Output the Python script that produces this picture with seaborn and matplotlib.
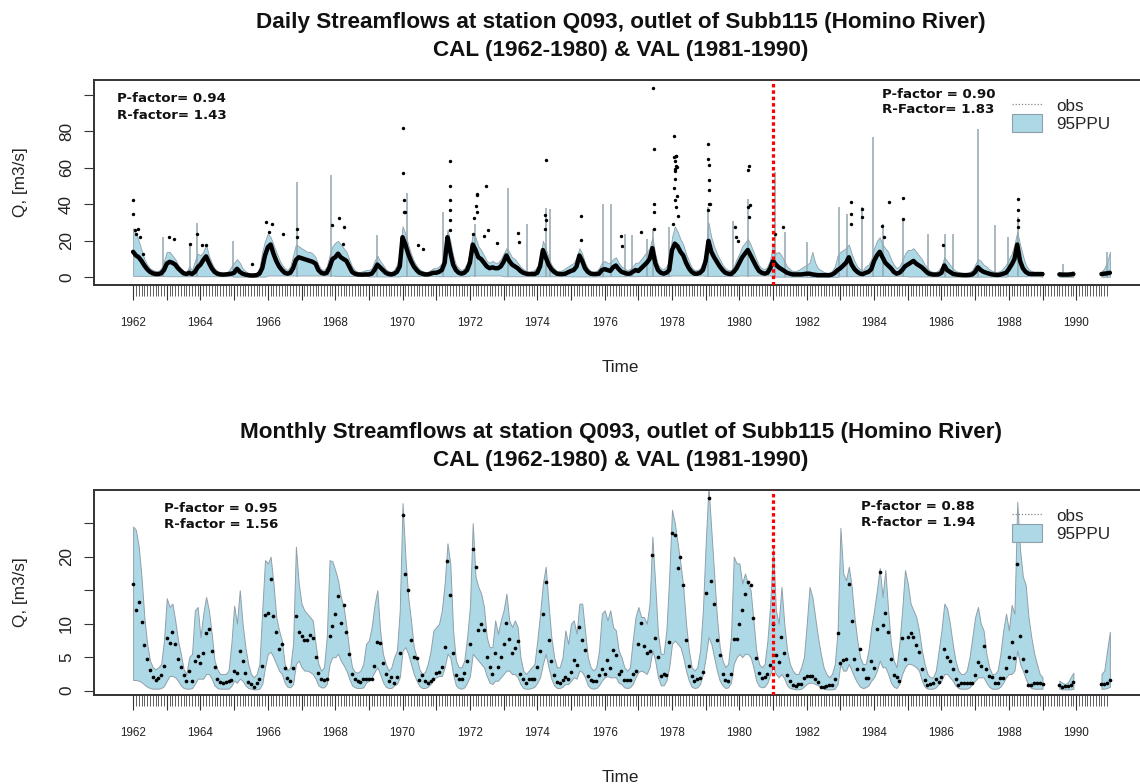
import numpy as np
import pandas as pd
import matplotlib
matplotlib.use("Agg")
import matplotlib.pyplot as plt
import seaborn as sns
from matplotlib.lines import Line2D
from matplotlib.patches import Patch

sns.set_theme(style="ticks")
plt.rcParams["font.family"] = ["Liberation Sans", "DejaVu Sans"]

# ---------------- DATA ----------------
# Monthly series: main block Jan 1962 .. Jan 1989, then Jul-Dec 1989, Oct 1990-Jan 1991
main_start = (1962, 1)
seg2_start = (1989, 7)
seg3_start = (1990, 10)

monthly_obs = [
    16.0, 12.0, 13.2, 10.2, 6.8, 4.8, 3.1, 2.0, 1.6, 1.9, 2.4, 3.7,
    7.9, 7.1, 8.8, 7.0, 4.7, 3.6, 2.3, 1.5, 3.0, 1.5, 4.5, 5.2,
    4.1, 5.6, 8.6, 9.2, 5.9, 3.5, 1.8, 1.3, 1.1, 1.3, 1.4, 1.6,
    3.0, 2.7, 5.9, 4.4, 2.7, 1.3, 1.0, 0.6, 1.2, 1.8, 3.7, 11.3,
    11.6, 16.7, 11.2, 8.7, 6.3, 6.9, 3.4, 1.9, 1.5, 3.4, 11.2, 8.7,
    8.2, 7.6, 7.6, 8.3, 7.8, 5.0, 2.7, 1.7, 1.6, 1.8, 8.1, 9.6,
    11.5, 14.2, 10.1, 12.8, 8.7, 5.5, 2.5, 1.7, 1.5, 1.3, 1.7, 1.7,
    1.8, 1.8, 3.7, 7.2, 7.1, 4.2, 2.5, 1.4, 2.1, 1.2, 2.1, 5.6,
    26.3, 17.4, 15.1, 7.6, 5.1, 4.9, 1.6, 2.3, 1.4, 1.2, 1.4, 1.8,
    2.7, 2.8, 3.5, 6.5, 19.4, 14.3, 5.7, 2.4, 1.8, 1.7, 2.7, 4.4,
    7.0, 21.1, 18.4, 9.0, 9.9, 9.1, 5.0, 3.5, 2.5, 5.6, 3.6, 5.0,
    7.0, 10.1, 7.7, 5.7, 6.4, 7.4, 2.5, 1.8, 1.1, 1.7, 1.7, 1.8,
    3.5, 6.0, 11.4, 16.3, 7.5, 4.4, 2.4, 1.3, 1.2, 1.6, 2.1, 1.8,
    2.8, 4.6, 3.8, 9.5, 7.5, 6.1, 2.2, 1.6, 1.5, 1.4, 2.4, 3.2,
    2.5, 4.6, 3.4, 6.1, 5.3, 2.5, 3.0, 1.6, 1.6, 1.6, 2.5, 3.0,
    6.9, 10.1, 6.6, 5.6, 6.0, 20.2, 7.9, 5.0, 2.2, 2.5, 2.4, 7.3,
    23.6, 23.3, 18.3, 20.0, 15.8, 7.5, 3.7, 2.2, 1.4, 1.8, 1.9, 2.8,
    14.6, 28.8, 16.4, 12.9, 7.6, 5.4, 2.5, 1.6, 1.4, 2.5, 7.7, 7.7,
    10.0, 12.0, 14.5, 16.2, 15.8, 10.9, 4.9, 2.6, 1.9, 2.1, 2.5, 3.9,
    10.0, 5.4, 4.3, 8.0, 5.7, 2.3, 1.4, 0.8, 0.65, 1.0, 1.0, 1.9,
    2.2, 2.2, 2.2, 1.7, 1.3, 0.6, 0.6, 0.7, 0.8, 0.8, 1.8, 8.6,
    4.2, 4.6, 4.8, 15.9, 10.4, 4.8, 3.2, 6.3, 3.2, 1.9, 1.9, 4.5,
    3.4, 9.2, 17.7, 9.8, 11.6, 8.8, 4.8, 2.3, 2.0, 1.5, 7.9, 4.7,
    8.0, 8.6, 8.0, 6.8, 5.8, 3.3, 1.6, 0.9, 1.0, 1.2, 1.8, 1.3,
    2.0, 6.2, 5.0, 4.4, 3.2, 1.8, 0.9, 1.1, 1.1, 1.1, 1.2, 1.2,
    2.3, 4.3, 3.7, 6.6, 3.2, 2.2, 2.0, 1.1, 1.1, 1.9, 1.9, 3.4,
    5.0, 7.3, 4.9, 18.9, 8.2, 4.7, 3.0, 0.8, 0.9, 1.2, 1.1, 1.1,
    1.0,
]
monthly_up = [
    24.5, 24.0, 21.5, 17, 11, 7, 4.5, 3.5, 3.2, 3.5, 4, 7.5,
    13.8, 12.5, 13, 10.5, 7.5, 5.5, 3.2, 2.5, 5, 5.5, 12, 12.5,
    8, 11.5, 14, 12, 8.5, 4.5, 3.2, 2.5, 2.5, 2.5, 3, 7,
    12.7, 10, 15, 10, 6.5, 4, 2.5, 2, 2.5, 4, 12, 19.5,
    19, 20, 16, 11, 9, 7.5, 4, 3, 3.5, 7, 21.5, 16,
    13, 12, 11.5, 11, 10.5, 7, 4, 3, 3.5, 8, 19.5, 19.3,
    18, 16.5, 14, 12.5, 9.5, 6, 3.5, 2.8, 2.7, 3, 4, 7,
    7.5, 9.5, 12.8, 15, 9, 5.5, 4, 3, 3.5, 5, 6, 12,
    28, 20, 14, 10.5, 6.5, 5, 3.2, 2.5, 2.8, 4, 6, 9,
    9.5, 10, 12, 16, 22, 19, 9, 4.5, 3.5, 3.5, 4.5, 8,
    12.5, 25, 17, 15.5, 14.5, 12.5, 8, 6.5, 6.5, 10.5, 8.5, 10.5,
    12, 14.5, 10.5, 9.5, 10.5, 9.5, 5, 3, 2.5, 3, 3.5, 4,
    7.5, 11.5, 16, 18.5, 13, 8, 5, 3.5, 3.5, 5, 9, 7,
    10, 10.5, 8.5, 13, 13, 9, 5, 3.5, 3, 3.5, 6, 11.5,
    12, 10.5, 12, 9.5, 9, 6, 5, 3.5, 3, 3.5, 7.5, 11,
    12.5, 11, 11, 10, 13, 23, 16, 8.5, 5.5, 5.5, 9, 17,
    27, 25, 22, 19, 15.5, 10, 6, 3.5, 3, 3.5, 6, 12,
    22, 30.5, 24, 17.5, 11, 6.5, 4.5, 3.5, 4, 8, 20, 19,
    19, 16, 17.5, 16, 15, 10.5, 6, 4, 3.5, 4, 7.5, 13,
    21.5, 12, 10, 15.5, 10, 6, 4, 3, 2.5, 2.5, 3.5, 5,
    10, 15.5, 14, 11, 8, 5.5, 3.5, 2.5, 2, 2.5, 4, 9,
    24.3, 17.5, 16.5, 18.5, 15.5, 11, 7.5, 5, 4, 4, 6, 9.5,
    12, 15, 18.3, 14, 18, 12, 7, 4.5, 3.5, 7, 12, 18,
    16, 13, 12, 11, 9, 6, 4, 2.5, 2, 2, 3, 6,
    9, 13, 12.3, 10, 7, 4.5, 3, 2.5, 2.5, 3, 5, 8,
    11, 12.5, 10, 9, 5.5, 3.5, 2.5, 2.5, 3, 5.5, 9, 11.5,
    9, 12.8, 11.5, 28.2, 21, 17, 15.8, 11, 8, 5.6, 4, 2.5,
    2.0,
]
monthly_lo = [
    1.6, 1.6, 1.5, 1.3, 0.9, 0.6, 0.4, 0.3, 0.3, 0.3, 0.4, 0.7,
    1.5, 2.2, 2.2, 2.0, 1.5, 0.8, 0.4, 0.3, 0.3, 0.4, 1.0, 1.8,
    1.8, 1.8, 2.5, 2.5, 1.8, 0.8, 0.4, 0.3, 0.3, 0.3, 0.3, 0.7,
    1.5, 1.2, 1.8, 1.5, 0.8, 0.4, 0.3, 0.2, 0.2, 0.3, 1.0, 3.5,
    5.5, 5.8, 5.0, 4.0, 3.0, 2.5, 1.2, 0.6, 0.5, 1.0, 4.0, 4.5,
    3.5, 3.0, 3.0, 2.8, 2.5, 1.8, 0.8, 0.5, 0.5, 1.0, 4.0, 5.0,
    5.0, 5.5, 4.5, 3.8, 3.0, 1.8, 0.8, 0.5, 0.4, 0.4, 0.5, 1.2,
    1.5, 2.0, 2.8, 3.5, 2.5, 1.3, 0.6, 0.4, 0.4, 0.8, 1.0, 2.0,
    6.0, 6.5, 5.5, 4.0, 2.5, 1.5, 0.7, 0.4, 0.4, 0.6, 1.0, 1.8,
    2.0, 2.2, 2.2, 3.5, 5.5, 5.0, 2.5, 0.8, 0.4, 0.3, 0.5, 1.2,
    2.2, 5.5, 5.0, 4.5, 4.0, 3.5, 2.2, 1.2, 1.0, 1.5, 1.5, 2.0,
    2.5, 3.0, 3.0, 2.5, 2.5, 2.0, 1.0, 0.4, 0.3, 0.3, 0.4, 0.6,
    1.2, 2.0, 4.0, 5.5, 3.5, 1.8, 0.8, 0.4, 0.4, 0.6, 1.0, 1.0,
    1.5, 2.0, 1.8, 3.0, 2.8, 2.0, 0.8, 0.4, 0.3, 0.4, 0.8, 1.5,
    2.0, 2.2, 2.0, 2.0, 2.0, 1.2, 1.0, 0.5, 0.4, 0.5, 1.0, 2.0,
    2.8, 3.0, 2.8, 2.5, 3.5, 6.0, 4.5, 2.0, 0.8, 0.8, 1.5, 3.5,
    7.0, 7.5, 7.0, 6.5, 5.0, 3.0, 1.5, 0.6, 0.4, 0.5, 1.0, 2.5,
    5.0, 8.0, 7.0, 5.0, 3.0, 1.5, 0.8, 0.4, 0.5, 1.2, 4.0, 5.0,
    5.5, 5.0, 5.5, 5.5, 5.0, 3.5, 1.5, 0.7, 0.5, 0.6, 1.2, 2.5,
    3.5, 2.5, 2.0, 2.5, 1.8, 0.8, 0.4, 0.3, 0.2, 0.2, 0.3, 0.6,
    1.0, 1.2, 1.2, 1.0, 0.8, 0.5, 0.3, 0.2, 0.2, 0.2, 0.3, 1.0,
    4.0, 3.0, 3.0, 4.0, 3.0, 2.0, 1.2, 0.6, 0.4, 0.5, 0.8, 1.5,
    2.0, 3.0, 4.5, 3.5, 3.5, 2.5, 1.2, 0.6, 0.4, 1.0, 2.5, 3.5,
    4.0, 4.0, 3.8, 3.5, 3.0, 1.5, 0.6, 0.3, 0.3, 0.3, 0.5, 1.0,
    1.5, 2.5, 2.5, 2.0, 1.5, 0.8, 0.4, 0.3, 0.3, 0.3, 0.5, 1.0,
    1.5, 2.0, 2.0, 2.0, 1.2, 0.6, 0.3, 0.3, 0.3, 0.6, 1.2, 2.0,
    2.5, 2.5, 3.0, 6.0, 4.0, 3.0, 1.8, 0.8, 0.4, 0.3, 0.3, 0.3,
    0.3,
]
monthly_obs_seg2 = [0.8, 0.55, 0.65, 0.65, 0.8, 1.3]
monthly_up_seg2 = [1.5, 1.2, 1.0, 1.2, 2.0, 2.7]
monthly_lo_seg2 = [0.3, 0.2, 0.2, 0.2, 0.2, 0.3]
monthly_obs_seg3 = [1.0, 1.05, 1.1, 1.6]
monthly_up_seg3 = [2.5, 3.0, 6.0, 8.8]
monthly_lo_seg3 = [0.3, 0.3, 0.4, 0.6]

# Daily panel: level of the dense daily obs curve and upper 95PPU edge, month by month
daily_obs = [
    14, 12, 11, 9, 6.5, 4.5, 3, 2.2, 1.8, 1.8, 2.2, 4,
    7.5, 8.5, 8, 7, 5, 3.5, 2.2, 1.8, 2.5, 1.8, 3, 5.5,
    7, 9.5, 11.5, 8, 5, 3, 2, 1.6, 1.5, 1.6, 1.8, 2,
    2.5, 4.7, 3, 2, 1.5, 1.2, 1.0, 1.0, 1.2, 2, 5, 12,
    16.5, 18, 13, 9, 6, 4, 2.5, 2, 2.5, 5, 9.5, 11,
    10.5, 10, 9.5, 9, 8.5, 7.5, 4, 2.5, 2, 2.5, 5.5, 10,
    11, 13, 11, 10, 9, 6, 3, 2, 1.6, 1.5, 1.5, 1.6,
    1.6, 2, 4, 7, 5.5, 4, 2.5, 1.8, 1.6, 2, 3, 6,
    22, 18, 13, 9, 6, 4, 2.5, 2, 1.6, 1.6, 2, 2.5,
    2.5, 3, 4, 8, 22, 14, 7, 4, 2.5, 2, 2.5, 4,
    8, 18, 15, 11, 10, 8, 6, 5, 5.5, 5, 5, 6,
    8.5, 12, 9, 7, 6, 5, 3.5, 2.5, 2, 1.8, 1.8, 1.8,
    2.5, 6, 15, 11, 7, 4.5, 3, 2, 1.8, 1.8, 2, 2.8,
    3.5, 4, 6, 12, 9, 5, 3, 2, 1.8, 1.8, 2, 4,
    4.5, 4, 3.5, 5.5, 6.5, 4.5, 3, 2.5, 2, 2, 3, 4,
    3.5, 5, 6.5, 8, 10, 16, 8, 4, 2.5, 2, 2.5, 4,
    15, 18.5, 17, 14, 12, 8, 5, 3, 2, 2, 2.5, 4,
    9, 20, 14, 11, 8.5, 6, 4, 2.5, 2, 1.8, 3, 5,
    8, 11, 13, 15, 12, 9, 6, 3.5, 2.5, 2, 2.5, 5,
    9, 7, 5.5, 4.5, 3.5, 2.5, 2, 1.6, 1.6, 1.6, 1.6, 1.8,
    2, 2, 1.6, 1.4, 1.2, 1.2, 1.2, 1.2, 1.2, 1.5, 2.5, 4,
    5, 6.5, 8, 11, 7, 4.5, 3, 2, 1.8, 2.5, 3, 4.5,
    9, 12, 14, 11, 8, 6.5, 5, 3, 2, 2.5, 4, 6,
    7, 8, 9, 7.5, 6.5, 5.5, 4, 2.5, 1.8, 1.5, 1.5, 1.6,
    2.5, 6.5, 4, 3, 2, 1.6, 1.4, 1.3, 1.2, 1.2, 1.3, 1.6,
    3, 5.5, 4, 3, 2.5, 2, 1.6, 1.4, 1.3, 1.5, 2, 2.5,
    4.5, 7, 10, 18, 9, 5, 3, 2, 1.8, 1.8, 1.8, 1.8,
    1.8,
]
daily_up = [
    27, 24, 20, 15, 10, 7, 5, 4, 3.5, 3.5, 5, 9,
    14, 14, 12, 10, 7, 5, 3.5, 3, 6, 4, 9, 13,
    12, 14, 18, 12, 8, 5, 3.5, 3, 2.5, 2.5, 3.5, 6,
    8, 10, 8, 5, 3.5, 2.5, 2.2, 2.2, 2.5, 5, 14, 20,
    24, 22, 18, 14, 10, 7, 5, 4, 6, 12, 18, 17,
    16, 15, 14, 14, 13, 11, 7, 4.5, 4, 6, 12, 17,
    19, 20, 18, 16, 14, 10, 6, 4, 3, 3, 3.5, 4,
    4, 5, 9, 12, 9, 7, 4.5, 3.5, 3, 4, 7, 12,
    28, 24, 18, 13, 9, 6.5, 4.5, 3.5, 3, 3, 4, 5,
    5, 6, 8, 14, 26, 20, 12, 7, 5, 4, 5, 8,
    14, 24, 22, 17, 15, 12, 9, 8, 9, 8, 8, 10,
    13, 16, 14, 11, 10, 8, 6, 4.5, 3.5, 3, 3.5, 4,
    6, 10, 20, 16, 11, 7, 5, 3.5, 3.5, 4, 5, 6,
    7, 8, 11, 16, 13, 8, 5, 3.5, 3, 3.5, 5, 8,
    9, 8, 8, 10, 11, 8, 6, 5, 4, 4.5, 6, 8,
    8, 10, 12, 14, 16, 22, 13, 7, 5, 4.5, 6, 9,
    22, 28, 25, 21, 18, 13, 9, 5.5, 4, 4, 5, 8,
    15, 30, 22, 17, 13, 10, 7, 5, 4, 4, 6, 10,
    13, 17, 19, 21, 18, 14, 10, 6.5, 5, 4.5, 6, 10,
    18, 13, 14, 12, 9, 6, 4.5, 3.5, 3.5, 4, 5, 6,
    7, 8, 14, 8, 5, 4, 3, 2.5, 2.5, 3.5, 6, 12,
    14, 15, 16, 18, 13, 9, 6, 4.5, 4, 6, 7, 10,
    16, 20, 22, 18, 16, 14, 10, 7, 5, 6, 9, 13,
    15, 15, 16, 14, 12, 10, 7, 5, 3.5, 3, 3, 4,
    6, 11, 9, 7, 5, 3.5, 3, 2.5, 2.5, 2.5, 3, 4,
    7, 10, 9, 7, 6, 4.5, 3.5, 3, 3, 3.5, 5, 7,
    10, 13, 18, 25, 18, 12, 7, 4.5, 3.5, 3, 3, 3,
    3,
]
daily_lo_by_year = [0.8, 0.6, 0.6, 0.4, 1.0, 1.0, 0.8, 0.5, 0.8, 0.6, 1.0, 0.6, 0.6, 0.5,
                    0.6, 0.8, 1.0, 0.8, 1.0, 0.4, 0.3, 0.6, 0.8, 0.5, 0.4, 0.4, 0.6]
daily_obs_seg2 = [1.6, 1.5, 1.5, 1.5, 1.6, 1.8]
daily_up_seg2 = [3, 2.5, 2.5, 2.5, 3, 3.5]
daily_obs_seg3 = [1.8, 2, 2.2, 2.5]
daily_up_seg3 = [3, 5, 8, 14]

# narrow 95PPU spikes in the daily band
spike_t = [1962.9, 1963.7, 1963.89, 1964.97, 1966.86, 1967.87, 1969.25, 1970.12, 1971.21,
           1972.15, 1973.14, 1973.7, 1974.25, 1974.38, 1975.96, 1976.2, 1976.6, 1976.8,
           1977.25, 1977.43, 1977.9, 1979.08, 1979.8, 1980.26, 1981.06, 1981.36, 1982.0,
           1982.96, 1983.2, 1983.63, 1983.96, 1984.27, 1984.87, 1985.6, 1986.1, 1986.33,
           1987.07, 1987.6, 1987.97, 1988.28, 1989.6, 1990.9]
spike_q = [22, 18.5, 30, 20, 52, 56, 23, 46, 36,
           29.4, 49, 29.4, 38, 37.6, 40, 40, 24, 23,
           21, 26.7, 27.6, 38.5, 31, 43, 58, 25, 19.4,
           38.5, 34.9, 38.5, 77, 29.4, 32, 24, 23.6, 24,
           81.5, 28.5, 22, 33, 7.5, 13.9]

# isolated daily observations standing above the dense curve
peak_t = [1962.01, 1962.01, 1962.05, 1962.1, 1962.15, 1962.2, 1962.3, 1963.07, 1963.2, 1963.7,
          1963.9, 1964.06, 1964.15, 1965.52, 1965.94, 1966.02, 1966.13, 1966.44, 1966.86, 1966.87,
          1967.9, 1968.1, 1968.25, 1968.22, 1970.02, 1970.02, 1970.03, 1970.04, 1970.06, 1970.45,
          1970.6, 1971.41, 1971.41, 1971.41, 1971.41, 1971.41, 1971.42, 1972.12, 1972.17, 1972.2,
          1972.21, 1972.22, 1972.47, 1972.1, 1972.43, 1972.55, 1972.8, 1973.44, 1973.45, 1974.25,
          1974.24, 1974.26, 1974.24, 1975.3, 1975.31, 1976.5, 1976.52, 1977.08, 1977.45, 1977.46,
          1977.47, 1977.47, 1977.47, 1978.07, 1978.07, 1978.08, 1978.11, 1978.13, 1978.08, 1978.1,
          1978.12, 1978.15, 1978.07, 1978.09, 1978.08, 1978.16, 1978.17, 1978.04, 1978.11, 1979.08,
          1979.08, 1979.09, 1979.1, 1979.1, 1979.11, 1979.14, 1979.08, 1979.87, 1980.27, 1980.3,
          1980.25, 1980.33, 1980.28, 1979.9, 1979.95, 1981.3, 1981.05, 1983.31, 1983.32, 1983.63,
          1983.63, 1983.32, 1984.22, 1984.43, 1984.87, 1984.87, 1984.28, 1986.05, 1988.26, 1988.27,
          1988.27, 1988.28]
peak_q = [42.6, 34.9, 25.8, 23.9, 26.7, 22, 13, 22, 21.2, 18.4,
          23.6, 18, 17.5, 7.5, 30.3, 24.8, 29.4, 23.6, 26.7, 22,
          28.5, 32.5, 27.6, 18.4, 81.8, 57.4, 42.2, 35.8, 35.8, 17.5,
          15.7, 63.7, 50, 42.2, 37.1, 31.2, 26.1, 32.7, 38.9, 44.9,
          45.8, 35.8, 50.2, 24, 22.5, 25.8, 18.8, 24.3, 19.4, 64.5,
          34, 31.6, 26.7, 33.4, 20.6, 22.5, 17.2, 24.7, 103.7, 70.5,
          40, 35.6, 26.7, 77.3, 65.9, 63.7, 66.3, 66.3, 59.5, 58.3,
          60.8, 60.5, 48.9, 54, 42.2, 44.4, 33.4, 29, 38.5, 73.2,
          64.8, 61.4, 53.1, 48, 40.4, 40, 36.7, 27.6, 59, 60.8,
          38.5, 39.5, 33, 22, 20, 27.6, 24, 41.3, 34.9, 37.6,
          33, 29.4, 28, 41.3, 43.7, 32.1, 22, 17.5, 43.1, 36.7,
          31.2, 27.6]

years = list(range(1962, 1991))
split_year = 1981

daily_title = ["Daily Streamflows at station Q093, outlet of Subb115 (Homino River)",
               "CAL (1962-1980) & VAL (1981-1990)"]
monthly_title = ["Monthly Streamflows at station Q093, outlet of Subb115 (Homino River)",
                 "CAL (1962-1980) & VAL (1981-1990)"]
daily_stats = [("P-factor= 0.94", "R-factor= 1.43"), ("P-factor = 0.90", "R-Factor= 1.83")]
monthly_stats = [("P-factor = 0.95", "R-factor = 1.56"), ("P-factor = 0.88", "R-factor = 1.94")]

# ---------------- helpers ----------------
def month_times(start, n):
    y, m = start
    return y + (m - 1) / 12 + np.arange(n) / 12


BAND = "#add8e6"
EDGE = "#8fa0aa"
W, H = 1140, 784
fig = plt.figure(figsize=(W / 100, H / 100), dpi=100)

AX_L, AX_R = 93.8, 1147.6


def make_axes(top, bottom):
    return fig.add_axes([AX_L / W, 1 - bottom / H, (AX_R - AX_L) / W, (bottom - top) / H])


def style_axes(ax, yticks, ylabels, ylim, titles, stats, top):
    ax.set_xlim(1960.833, 1992.12)
    ax.set_ylim(*ylim)
    ax.set_xticks(years)
    ax.set_xticklabels([str(y) if y % 2 == 0 else "" for y in years])
    ax.set_xticks(1962 + np.arange(29 * 12) / 12, minor=True)
    ax.tick_params(axis="x", which="major", length=10.8, width=0.8, color="#333333",
                   labelsize=8.4, pad=12.5, labelcolor="#222222")
    ax.tick_params(axis="x", which="minor", length=7.9, width=0.6, color="#444444")
    ax.set_yticks(yticks)
    ax.set_yticklabels(ylabels, rotation=90, va="center")
    ax.tick_params(axis="y", which="major", length=7.2, width=0.8, color="#333333",
                   labelsize=12.3, pad=7, labelcolor="#222222")
    for s in ax.spines.values():
        s.set_color("#333333")
        s.set_linewidth(1.4)
    h = 205.0
    xl = ax.set_xlabel("Time", fontsize=12.3, color="#222222")
    ax.xaxis.set_label_coords(0.5, -82.5 / h)
    xl.set_verticalalignment("center")
    yl = ax.set_ylabel("Q, [m3/s]", fontsize=12.3, color="#222222")
    ax.yaxis.set_label_coords(-(AX_L - 21) / (AX_R - AX_L), 0.5)
    yl.set_verticalalignment("center")
    ax.text(0.5, 1 + 57.5 / h, titles[0], transform=ax.transAxes, ha="center", va="center",
            fontsize=16.2, fontweight="bold", color="#111111")
    ax.text(0.5, 1 + 29.5 / h, titles[1], transform=ax.transAxes, ha="center", va="center",
            fontsize=16.2, fontweight="bold", color="#111111")
    ax.axvline(split_year, color="red", lw=2.3, ls=(0, (1.1, 0.9)), zorder=6)
    handles = [Line2D([], [], color="#888888", ls=(0, (1, 1.5)), lw=0.9),
               Patch(facecolor=BAND, edgecolor=EDGE, linewidth=0.8)]
    ax.legend(handles, ["obs", "95PPU"], loc="upper left",
              bbox_to_anchor=(1012 / W, 1 - (top + 16.5) / H), bbox_transform=fig.transFigure,
              frameon=False, fontsize=12.3, handlelength=1.75, handleheight=1.2,
              handletextpad=0.85, labelspacing=0.0, borderpad=0, borderaxespad=0)
    for (x, y, txt) in stats:
        fig.text(x / W, 1 - y / H, txt, ha="left", va="center", fontsize=9.6,
                 fontweight="bold", family="DejaVu Sans", color="#111111")


# ---------------- daily panel ----------------
ax1 = make_axes(80, 285)
n_main = len(daily_obs)
t_main = month_times(main_start, n_main)
daily_lo = np.append(np.repeat(daily_lo_by_year, 12), 0.3)
segs_daily = [
    (t_main, np.array(daily_lo), np.array(daily_up), np.array(daily_obs)),
    (month_times(seg2_start, 6), np.full(6, 0.3), np.array(daily_up_seg2), np.array(daily_obs_seg2)),
    (month_times(seg3_start, 4), np.full(4, 0.3), np.array(daily_up_seg3), np.array(daily_obs_seg3)),
]
for t, lo, up, ob in segs_daily:
    ax1.fill_between(t, lo, up, facecolor=BAND, edgecolor=EDGE, linewidth=0.6, zorder=2)
ax1.vlines(spike_t, 0.3, spike_q, color="#93a6b0", lw=1.1, zorder=2)
for t, lo, up, ob in segs_daily:
    sns.lineplot(x=t, y=ob, color="black", lw=3.2, ax=ax1, sort=False, estimator=None, zorder=4)
peaks = pd.DataFrame({"t": peak_t, "q": peak_q})
sns.scatterplot(data=peaks, x="t", y="q", color="black", s=6, linewidth=0, ax=ax1, zorder=5)
style_axes(ax1, [0, 20, 40, 60, 80, 100], ["0", "20", "40", "60", "80", ""], (-4.2, 108.2),
           daily_title,
           [(117, 99, daily_stats[0][0]), (117, 115.5, daily_stats[0][1]),
            (882, 94, daily_stats[1][0]), (882, 109.5, daily_stats[1][1])], 80)

# ---------------- monthly panel ----------------
ax2 = make_axes(490, 695)
segs_month = [
    (month_times(main_start, len(monthly_obs)), monthly_lo, monthly_up, monthly_obs),
    (month_times(seg2_start, 6), monthly_lo_seg2, monthly_up_seg2, monthly_obs_seg2),
    (month_times(seg3_start, 4), monthly_lo_seg3, monthly_up_seg3, monthly_obs_seg3),
]
frames = []
for t, lo, up, ob in segs_month:
    ax2.fill_between(t, lo, up, facecolor=BAND, edgecolor=EDGE, linewidth=0.7, zorder=2)
    frames.append(pd.DataFrame({"t": t, "q": ob}))
mdf = pd.concat(frames)
sns.scatterplot(data=mdf, x="t", y="q", color="black", s=7, linewidth=0, ax=ax2, zorder=5)
style_axes(ax2, [0, 5, 10, 15, 20, 25], ["0", "5", "10", "", "20", ""], (-0.64, 29.96),
           monthly_title,
           [(163.5, 509, monthly_stats[0][0]), (163.5, 524.5, monthly_stats[0][1]),
            (861, 507, monthly_stats[1][0]), (861, 522.5, monthly_stats[1][1])], 490)

fig.savefig("out.png", dpi=100)
